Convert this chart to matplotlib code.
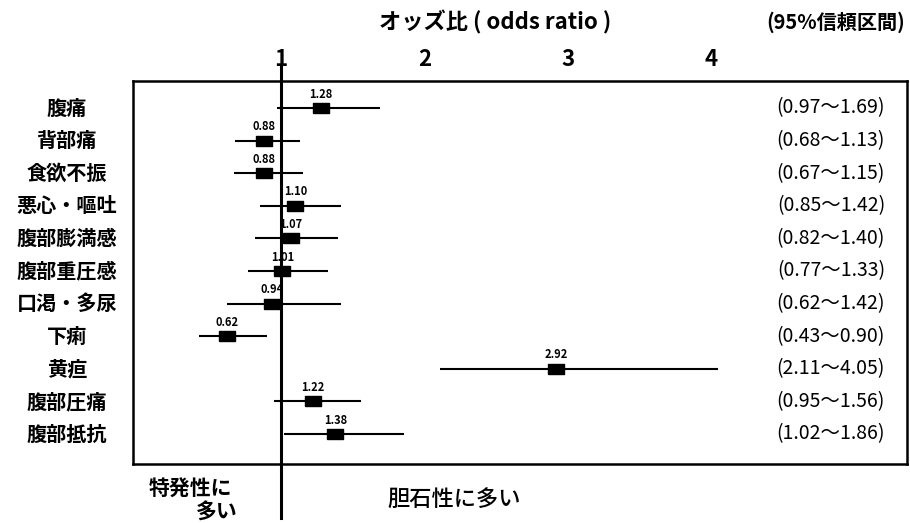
import matplotlib
matplotlib.use("Agg")
import matplotlib.pyplot as plt
from matplotlib.transforms import blended_transform_factory

plt.rcParams['font.family'] = ['Noto Sans CJK JP', 'DejaVu Sans']

symptoms = ['腹痛', '背部痛', '食欲不振', '悪心・嘔吐', '腹部膨満感', '腹部重圧感',
            '口渇・多尿', '下痢', '黄疸', '腹部圧痛', '腹部抵抗']
odds = [1.28, 0.88, 0.88, 1.10, 1.07, 1.01, 0.94, 0.62, 2.92, 1.22, 1.38]
ci_low = [0.97, 0.68, 0.67, 0.85, 0.82, 0.77, 0.62, 0.43, 2.11, 0.95, 1.02]
ci_high = [1.69, 1.13, 1.15, 1.42, 1.40, 1.33, 1.42, 0.90, 4.05, 1.56, 1.86]
xticks = [1, 2, 3, 4]

W, H = 910, 523
fig = plt.figure(figsize=(W / 100, H / 100), dpi=100)
ax = fig.add_axes([133 / W, 1 - 464 / H, (907 - 133) / W, (464 - 81) / H])

rows = list(range(len(symptoms)))

# confidence intervals and point estimates
rect = [(-1, -0.62), (1, -0.62), (1, 0.62), (-1, 0.62), (-1, -0.62)]
for y, o, lo, hi in zip(rows, odds, ci_low, ci_high):
    ax.plot([lo, hi], [y, y], color='black', lw=1.5, solid_capstyle='butt')
    ax.plot(o, y, marker=rect, ms=12, color='black', mec='black')
    ax.annotate(f'{o:.2f}', (o, y), xytext=(0, 10), textcoords='offset points',
                ha='center', va='center', fontsize=8, fontweight='bold')
    ax.text(0.9716, y, f'({lo:.2f}～{hi:.2f})', transform=ax.get_yaxis_transform(),
            ha='right', va='center', fontsize=14)

# reference line at 1, running past the box
ax.plot([1, 1], [-1.32, 12.58], color='black', lw=2.2, clip_on=False)

ax.set_xlim(-0.033, 5.368)
ax.set_ylim(10.92, -0.83)
ax.xaxis.tick_top()
ax.set_xticks(xticks)
ax.set_xticklabels([str(t) for t in xticks], fontsize=16, fontweight='bold')
ax.tick_params(axis='x', length=0, pad=7)
ax.set_yticks([])
for s in ax.spines.values():
    s.set_linewidth(1.8)

# row labels left of the box
lab_tr = blended_transform_factory(fig.transFigure, ax.transData)
for y, name in zip(rows, symptoms):
    ax.text(67 / W, y, name, transform=lab_tr, ha='center', va='center',
            fontsize=14.5, fontweight='bold')

fig.text(495 / W, 1 - 22 / H, 'オッズ比 ( odds ratio )', ha='center', va='center',
         fontsize=16, fontweight='bold')
fig.text(905 / W, 1 - 22 / H, '(95%信頼区間)', ha='right', va='center',
         fontsize=14.5, fontweight='bold')
fig.text(232 / W, 1 - 488 / H, '特発性に', ha='right', va='center', fontsize=15, fontweight='bold')
fig.text(238 / W, 1 - 512 / H, '多い', ha='right', va='center', fontsize=15, fontweight='bold')
fig.text(387 / W, 1 - 500 / H, '胆石性に多い', ha='left', va='center', fontsize=16, fontweight='medium')

fig.savefig('out.png', dpi=100)
